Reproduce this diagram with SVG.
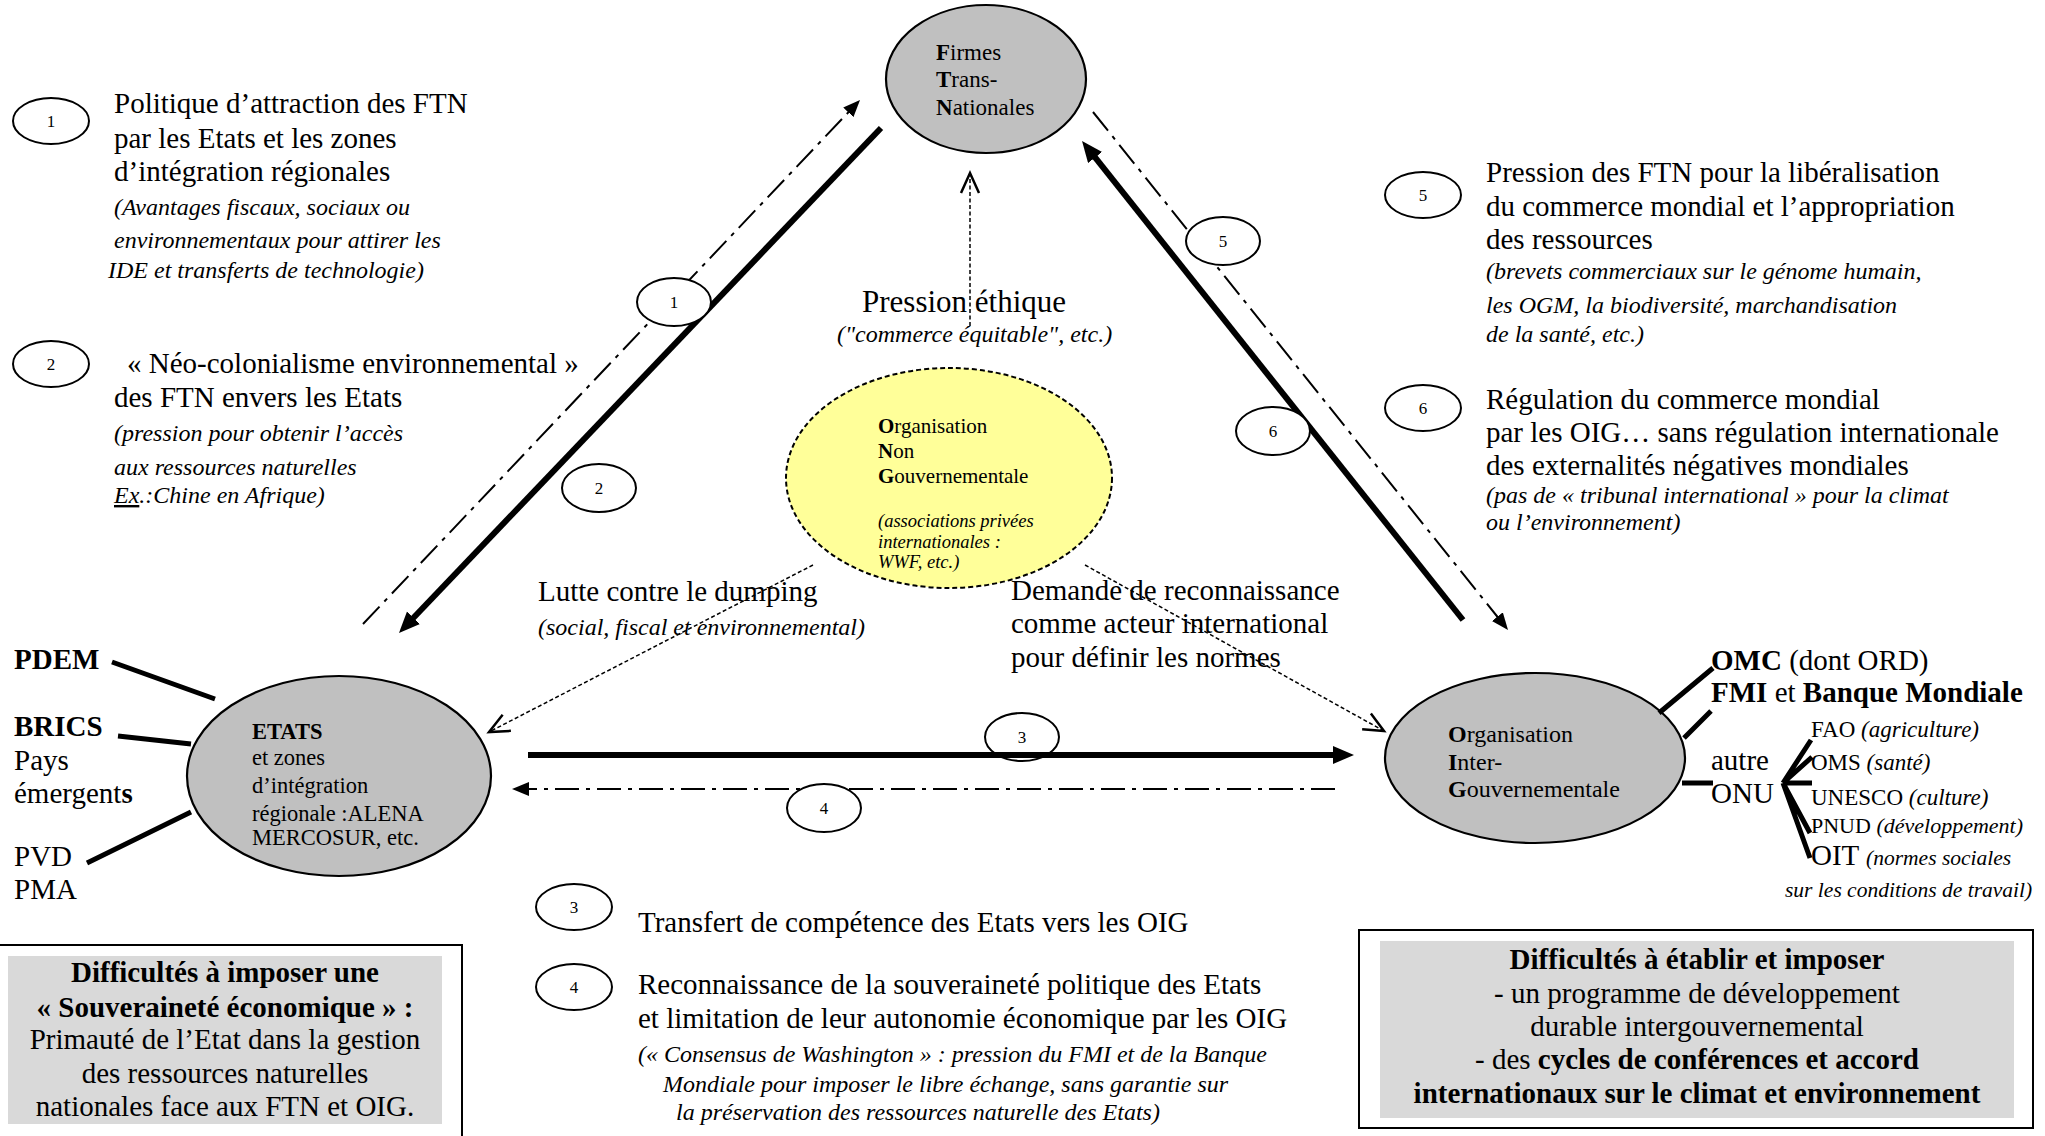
<svg xmlns="http://www.w3.org/2000/svg" width="2045" height="1136" viewBox="0 0 2045 1136">
<defs>
<style>
text{font-family:"Liberation Serif","Times New Roman",serif;fill:#000}
.r{font-size:29px}
.i{font-size:24px;font-style:italic}
.b{font-weight:bold}
.it{font-style:italic}
.num{font-size:17px;text-anchor:middle}
.badge{fill:#fff;stroke:#000;stroke-width:2}
.leg{fill:none;stroke:#000;stroke-width:2}
.node{fill:#c0c0c0;stroke:#000;stroke-width:2.2}
.solid{fill:none;stroke:#000;stroke-width:6}
.dd{fill:none;stroke:#000;stroke-width:2;stroke-dasharray:24 7 4 7}
.dot{fill:none;stroke:#000;stroke-width:1.5;stroke-dasharray:4 2.5}
.branch{fill:none;stroke:#000;stroke-width:5}
.mid{text-anchor:middle}
</style>
<marker id="hBig" markerUnits="userSpaceOnUse" markerWidth="22" markerHeight="20" refX="1" refY="9" orient="auto"><path d="M0,0 L21,9 L0,18 z" fill="#000"/></marker>
<marker id="hSmall" markerUnits="userSpaceOnUse" markerWidth="18" markerHeight="16" refX="1" refY="7" orient="auto"><path d="M0,0 L17,7 L0,14 z" fill="#000"/></marker>
<marker id="hOpen" markerUnits="userSpaceOnUse" markerWidth="26" markerHeight="24" refX="21" refY="11" orient="auto"><path d="M1,2 L21,11 L1,20" fill="none" stroke="#000" stroke-width="2.5"/></marker>
</defs>
<rect width="2045" height="1136" fill="#fff"/>

<g id="connectors">
<path class="dd" d="M363,624 L849,111.6" marker-end="url(#hSmall)"/>
<path class="solid" d="M881,128 L412.8,618.5" marker-end="url(#hBig)"/>
<path class="dd" d="M1093,112 L1498,617.5" marker-end="url(#hSmall)"/>
<path class="solid" d="M1463,620 L1094.5,156.7" marker-end="url(#hBig)"/>
<ellipse class="badge" cx="1022" cy="737" rx="37" ry="24"/>
<text class="num" x="1022" y="743">3</text>
<path class="solid" d="M528,755 L1334,755" marker-end="url(#hBig)"/>
<path class="dd" d="M1335,789 L528,789" marker-end="url(#hSmall)"/>
<path class="dot" d="M970,326 L970,173" marker-end="url(#hOpen)"/>
<path class="dot" d="M813,565 L489,732" marker-end="url(#hOpen)"/>
<path class="dot" d="M1085,565 L1384,731" marker-end="url(#hOpen)"/>
<ellipse class="badge" cx="674" cy="302" rx="37" ry="24"/>
<text class="num" x="674" y="308">1</text>
<ellipse class="badge" cx="599" cy="488" rx="37" ry="24"/>
<text class="num" x="599" y="494">2</text>
<ellipse class="badge" cx="1223" cy="241" rx="37" ry="24"/>
<text class="num" x="1223" y="247">5</text>
<ellipse class="badge" cx="1273" cy="431" rx="37" ry="24"/>
<text class="num" x="1273" y="437">6</text>
<ellipse class="badge" cx="824" cy="808" rx="37" ry="24"/>
<text class="num" x="824" y="814">4</text>
</g>

<g id="ftn">
<ellipse class="node" cx="986" cy="79" rx="100" ry="74"/>
<text x="936" y="60" style="font-size:23px"><tspan class="b">F</tspan>irmes</text>
<text x="936" y="87" style="font-size:23px"><tspan class="b">T</tspan>rans-</text>
<text x="936" y="115" style="font-size:23px"><tspan class="b">N</tspan>ationales</text>
</g>

<g id="ngo">
<ellipse cx="949" cy="478" rx="163" ry="110" fill="#ffff99" stroke="#000" stroke-width="2" stroke-dasharray="5 3"/>
<text x="878" y="433" style="font-size:21px"><tspan class="b">O</tspan>rganisation</text>
<text x="878" y="458" style="font-size:21px"><tspan class="b">N</tspan>on</text>
<text x="878" y="483" style="font-size:21px"><tspan class="b">G</tspan>ouvernementale</text>
<text x="878" y="527" class="it" style="font-size:18.5px">(associations privées</text>
<text x="878" y="548" class="it" style="font-size:18.5px">internationales :</text>
<text x="878" y="568" class="it" style="font-size:18.5px">WWF, etc.)</text>
</g>

<g id="etats">
<ellipse class="node" cx="339" cy="776" rx="152" ry="100"/>
<text x="252" y="739" class="b" style="font-size:22.5px">ETATS</text>
<text x="252" y="765" style="font-size:22.5px">et zones</text>
<text x="252" y="793" style="font-size:22.5px">d’intégration</text>
<text x="252" y="821" style="font-size:22.5px">régionale :ALENA</text>
<text x="252" y="845" style="font-size:22.5px">MERCOSUR, etc.</text>
</g>

<g id="oig">
<ellipse class="node" cx="1535" cy="758" rx="150" ry="85"/>
<text x="1448" y="742" style="font-size:24px"><tspan class="b">O</tspan>rganisation</text>
<text x="1448" y="770" style="font-size:24px"><tspan class="b">I</tspan>nter-</text>
<text x="1448" y="797" style="font-size:24px"><tspan class="b">G</tspan>ouvernementale</text>
</g>

<g id="etats-members">
<path class="branch" d="M112,662 L215,699 M118,736 L191,744 M87,863 L191,812"/>
<text x="14" y="669" class="r b">PDEM</text>
<text x="14" y="736" class="r b">BRICS</text>
<text x="14" y="770" class="r">Pays</text>
<text x="14" y="803" class="r">émergent<tspan class="b">s</tspan></text>
<text x="14" y="866" class="r">PVD</text>
<text x="14" y="899" class="r">PMA</text>
</g>

<g id="oig-members">
<path class="branch" d="M1659,713 L1713,668 M1684,738 L1711,711 M1682,783 L1713,783 M1783,783 L1811,740 M1783,783 L1812,757 M1783,783 L1812,783 M1783,783 L1810,833 M1783,783 L1810,858"/>
<text x="1711" y="670" class="r"><tspan class="b">OMC</tspan> (dont ORD)</text>
<text x="1711" y="702" class="r"><tspan class="b">FMI</tspan> et <tspan class="b">Banque Mondiale</tspan></text>
<text x="1711" y="770" class="r">autre</text>
<text x="1711" y="803" class="r">ONU</text>
<text x="1811" y="737" style="font-size:23px">FAO <tspan class="it">(agriculture)</tspan></text>
<text x="1811" y="770" style="font-size:23px">OMS <tspan class="it">(santé)</tspan></text>
<text x="1811" y="805" style="font-size:23px">UNESCO <tspan class="it">(culture)</tspan></text>
<text x="1811" y="833" style="font-size:22px">PNUD <tspan class="it">(développement)</tspan></text>
<text x="1811" y="865" class="r">OIT <tspan class="it" style="font-size:21.5px">(normes sociales</tspan></text>
<text x="1785" y="897" class="it" style="font-size:21.5px">sur les conditions de travail)</text>
</g>

<g id="legend-1">
<ellipse class="leg" cx="51" cy="121" rx="38" ry="23"/>
<text class="num" x="51" y="127">1</text>
<text x="114" y="113" class="r">Politique d’attraction des FTN</text>
<text x="114" y="148" class="r">par les Etats et les zones</text>
<text x="114" y="181" class="r">d’intégration régionales</text>
<text x="114" y="215" class="i">(Avantages fiscaux, sociaux ou</text>
<text x="114" y="248" class="i">environnementaux pour attirer les</text>
<text x="108" y="278" class="i">IDE et transferts de technologie)</text>
</g>

<g id="legend-2">
<ellipse class="leg" cx="51" cy="364" rx="38" ry="23"/>
<text class="num" x="51" y="370">2</text>
<text x="127" y="373" class="r">« Néo-colonialisme environnemental »</text>
<text x="114" y="407" class="r">des FTN envers les Etats</text>
<text x="114" y="441" class="i">(pression pour obtenir l’accès</text>
<text x="114" y="475" class="i">aux ressources naturelles</text>
<text x="114" y="503" class="i"><tspan text-decoration="underline">Ex</tspan>.:Chine en Afrique)</text>
</g>

<g id="legend-5">
<ellipse class="leg" cx="1423" cy="195" rx="38" ry="23"/>
<text class="num" x="1423" y="201">5</text>
<text x="1486" y="182" class="r">Pression des FTN pour la libéralisation</text>
<text x="1486" y="216" class="r">du commerce mondial et l’appropriation</text>
<text x="1486" y="249" class="r">des ressources</text>
<text x="1486" y="279" class="i">(brevets commerciaux sur le génome humain,</text>
<text x="1486" y="313" class="i">les OGM, la biodiversité, marchandisation</text>
<text x="1486" y="342" class="i">de la santé, etc.)</text>
</g>

<g id="legend-6">
<ellipse class="leg" cx="1423" cy="408" rx="38" ry="23"/>
<text class="num" x="1423" y="414">6</text>
<text x="1486" y="409" class="r">Régulation du commerce mondial</text>
<text x="1486" y="442" class="r">par les OIG… sans régulation internationale</text>
<text x="1486" y="475" class="r">des externalités négatives mondiales</text>
<text x="1486" y="503" class="i">(pas de « tribunal international » pour la climat</text>
<text x="1486" y="530" class="i">ou l’environnement)</text>
</g>

<g id="label-pression">
<text x="862" y="312" style="font-size:31px">Pression éthique</text>
<text x="837" y="342" class="i">("commerce équitable", etc.)</text>
</g>

<g id="label-dumping">
<text x="538" y="601" class="r">Lutte contre le dumping</text>
<text x="538" y="635" class="i">(social, fiscal et environnemental)</text>
</g>

<g id="label-reconnaissance">
<text x="1011" y="600" class="r">Demande de reconnaissance</text>
<text x="1011" y="633" class="r">comme acteur international</text>
<text x="1011" y="667" class="r">pour définir les normes</text>
</g>

<g id="legend-3">
<ellipse class="leg" cx="574" cy="907" rx="38" ry="23"/>
<text class="num" x="574" y="913">3</text>
<text x="638" y="932" class="r">Transfert de compétence des Etats vers les OIG</text>
</g>

<g id="legend-4">
<ellipse class="leg" cx="574" cy="987" rx="38" ry="23"/>
<text class="num" x="574" y="993">4</text>
<text x="638" y="994" class="r">Reconnaissance de la souveraineté politique des Etats</text>
<text x="638" y="1028" class="r">et limitation de leur autonomie économique par les OIG</text>
<text x="638" y="1062" class="i">(« Consensus de Washington » : pression du FMI et de la Banque</text>
<text x="663" y="1092" class="i">Mondiale pour imposer le libre échange, sans garantie sur</text>
<text x="676" y="1120" class="i">la préservation des ressources naturelle des Etats)</text>
</g>

<g id="box-left">
<path d="M0,945 H462 V1140" fill="none" stroke="#000" stroke-width="2"/>
<rect x="8" y="956" width="434" height="168" fill="#d9d9d9"/>
<text x="225" y="982" class="r b mid">Difficultés à imposer une</text>
<text x="225" y="1017" class="r b mid">« Souveraineté économique » :</text>
<text x="225" y="1049" class="r mid">Primauté de l’Etat dans la gestion</text>
<text x="225" y="1083" class="r mid">des ressources naturelles</text>
<text x="225" y="1116" class="r mid">nationales face aux FTN et OIG.</text>
</g>

<g id="box-right">
<rect x="1359" y="930" width="674" height="198" fill="#fff" stroke="#000" stroke-width="2"/>
<rect x="1380" y="941" width="634" height="177" fill="#d9d9d9"/>
<text x="1697" y="969" class="r b mid">Difficultés à établir et imposer</text>
<text x="1697" y="1003" class="r mid">- un programme de développement</text>
<text x="1697" y="1036" class="r mid">durable intergouvernemental</text>
<text x="1697" y="1069" class="r mid">- des <tspan class="b">cycles de conférences et accord</tspan></text>
<text x="1697" y="1103" class="r b mid">internationaux sur le climat et environnement</text>
</g>
</svg>
